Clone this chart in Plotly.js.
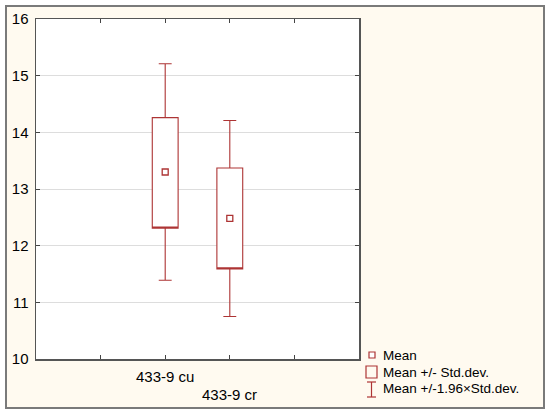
<!DOCTYPE html>
<html>
<head>
<meta charset="utf-8">
<script src="https://cdn.plot.ly/plotly-3.0.1.min.js"></script>
<style>
  html, body { margin: 0; padding: 0; background: #ffffff; }
  #chart { position: absolute; left: 5px; top: 5px; width: 540px; height: 404px;
           box-sizing: border-box; border: 2px solid #7a7a7a; }
</style>
</head>
<body>
<div id="chart"></div>
<script>
// ---- data ----
const categories = ["433-9 cu", "433-9 cr"];
const means      = [13.30, 12.48];
const sdUpper    = [14.26, 13.37];   // mean + SD
const sdLower    = [12.31, 11.59];   // mean - SD
const ciUpper    = [15.21, 14.21];   // mean + 1.96*SD
const ciLower    = [11.39, 10.75];   // mean - 1.96*SD
const yTicks     = [10, 11, 12, 13, 14, 15, 16];
const legendNames = ["Mean", "Mean +/- Std.dev.", "Mean +/-1.96\u00d7Std.dev."];

const red = "#AD3434";
const font = "Arial, 'Liberation Sans', sans-serif";
const xPos = categories.map((c, i) => i + 2);

const W = 536, H = 400;
const M = { l: 29, r: 184, t: 12, b: 48 };
const plotW = W - M.l - M.r, plotH = H - M.t - M.b;
// pixel (within the figure) -> paper coordinates, for the legend block
const px = v => (v - M.l) / plotW;
const py = v => (H - M.b - v) / plotH;

const traces = [
  {
    type: "box",
    x: xPos,
    q1: sdLower,
    median: sdLower,
    q3: sdUpper,
    lowerfence: ciLower,
    upperfence: ciUpper,
    width: 0.4,
    whiskerwidth: 0.5,
    boxpoints: false,
    fillcolor: "#ffffff",
    line: { color: red, width: 1.1 },
    name: legendNames[1],
    showlegend: false,
    hoverinfo: "skip"
  },
  {
    type: "scatter",
    mode: "markers",
    x: xPos,
    y: means,
    marker: { symbol: "square-open", size: 6, color: red, line: { width: 1.3, color: red } },
    name: legendNames[0],
    showlegend: false,
    hoverinfo: "skip"
  }
];

const annotations = categories.map((c, i) => ({
  x: xPos[i], xref: "x",
  y: 0, yref: "paper",
  yanchor: "top",
  yshift: -7 - i * 18,
  text: c,
  showarrow: false,
  font: { family: font, size: 15, color: "#000" }
}));

// custom legend (text + icons)
const legRowY = [348, 365, 382];
legendNames.forEach((n, i) => {
  annotations.push({
    x: px(374), xref: "paper", xanchor: "left",
    y: py(legRowY[i]), yref: "paper", yanchor: "middle",
    text: n, showarrow: false,
    font: { family: font, size: 13.5, color: "#000" }
  });
});
const sl = { color: red, width: 1.2 };
const shapes = [
  // Mean: small square
  { type: "rect", xref: "paper", yref: "paper", x0: px(362), x1: px(368), y0: py(345), y1: py(351), line: sl, fillcolor: "#ffffff" },
  // Mean +/- SD: big square
  { type: "rect", xref: "paper", yref: "paper", x0: px(359), x1: px(370), y0: py(359), y1: py(371), line: sl, fillcolor: "rgba(0,0,0,0)" },
  // Mean +/- 1.96 SD: I-beam
  { type: "line", xref: "paper", yref: "paper", x0: px(364.5), x1: px(364.5), y0: py(375), y1: py(390), line: sl },
  { type: "line", xref: "paper", yref: "paper", x0: px(360), x1: px(369), y0: py(375), y1: py(375), line: sl },
  { type: "line", xref: "paper", yref: "paper", x0: px(360), x1: px(369), y0: py(390), y1: py(390), line: sl }
];

const layout = {
  width: W,
  height: H,
  margin: { l: M.l, r: M.r, t: M.t, b: M.b, autoexpand: false },
  paper_bgcolor: "#FFFAF0",
  plot_bgcolor: "#ffffff",
  showlegend: false,
  xaxis: {
    range: [0, 5],
    tickvals: [1, 2, 3, 4],
    ticktext: ["", "", "", ""],
    ticks: "inside",
    ticklen: 4,
    tickcolor: "#444",
    showgrid: false,
    zeroline: false,
    showline: true,
    linecolor: "#555",
    linewidth: 1.5,
    mirror: "ticks",
    automargin: false,
    fixedrange: true
  },
  yaxis: {
    range: [10, 16],
    tickvals: yTicks,
    ticks: "inside",
    ticklen: 4,
    tickcolor: "#444",
    showgrid: true,
    gridcolor: "#DDDDDD",
    gridwidth: 1,
    zeroline: false,
    showline: true,
    linecolor: "#555",
    linewidth: 1.5,
    mirror: "ticks",
    ticklabelstandoff: 3,
    automargin: false,
    tickfont: { family: font, size: 15, color: "#000" },
    fixedrange: true
  },
  annotations: annotations,
  shapes: shapes
};

Plotly.newPlot("chart", traces, layout, { displayModeBar: false, staticPlot: true });
</script>
</body>
</html>
